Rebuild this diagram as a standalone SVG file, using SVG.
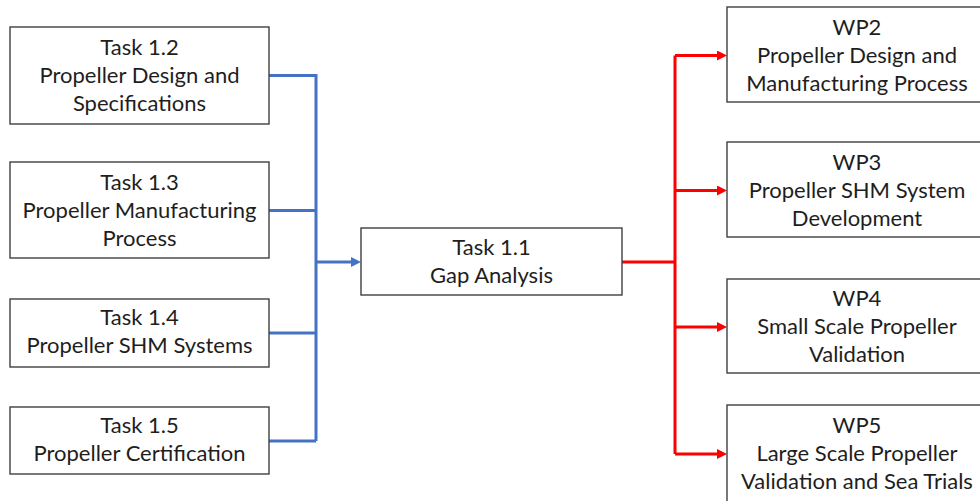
<svg xmlns="http://www.w3.org/2000/svg" width="980" height="501" viewBox="0 0 980 501">
  <style>
    .box { fill: #ffffff; stroke: #3f3f3f; stroke-width: 1.4; }
    .lbl { font-family: Lato, "Open Sans", "Liberation Sans", sans-serif; font-size: 22px; fill: #1e1e1e; text-anchor: middle; }
    .blue { fill: none; stroke: #4472c4; stroke-width: 3; }
    .red { fill: none; stroke: #ff0000; stroke-width: 3; }
  </style>
  <defs>
    <marker id="arrowBlue" viewBox="0 0 10 10" markerUnits="userSpaceOnUse" markerWidth="10" markerHeight="10" refX="2" refY="5" orient="auto">
      <path d="M0,0 L10,5 L0,10 z" fill="#4472c4"/>
    </marker>
    <marker id="arrowRed" viewBox="0 0 10 10" markerUnits="userSpaceOnUse" markerWidth="10" markerHeight="10" refX="2" refY="5" orient="auto">
      <path d="M0,0 L10,5 L0,10 z" fill="#ff0000"/>
    </marker>
  </defs>
  <rect width="980" height="501" fill="#ffffff"/>

  <g id="connectors">
    <!-- inputs merging into the gap analysis -->
    <path class="blue" d="M269,75.5 H316 V441"/>
    <path class="blue" d="M269,210.5 H316"/>
    <path class="blue" d="M269,333 H316"/>
    <path class="blue" d="M269,441 H316"/>
    <path class="blue" d="M316,262 H353" marker-end="url(#arrowBlue)"/>
    <!-- outputs to the work packages -->
    <path class="red" d="M622,262 H675"/>
    <path class="red" d="M675,55.5 V454"/>
    <path class="red" d="M675,55.5 H719" marker-end="url(#arrowRed)"/>
    <path class="red" d="M675,190.5 H719" marker-end="url(#arrowRed)"/>
    <path class="red" d="M675,327 H719" marker-end="url(#arrowRed)"/>
    <path class="red" d="M675,454 H719" marker-end="url(#arrowRed)"/>
  </g>

  <g id="task12">
    <rect class="box" x="10" y="27" width="259" height="97"/>
    <text class="lbl" x="139.5" y="55">Task 1.2</text>
    <text class="lbl" x="139.5" y="83">Propeller Design and</text>
    <text class="lbl" x="139.5" y="111">Specifications</text>
  </g>
  <g id="task13">
    <rect class="box" x="10" y="162" width="259" height="96"/>
    <text class="lbl" x="139.5" y="190">Task 1.3</text>
    <text class="lbl" x="139.5" y="218">Propeller Manufacturing</text>
    <text class="lbl" x="139.5" y="246">Process</text>
  </g>
  <g id="task14">
    <rect class="box" x="10" y="299" width="259" height="68"/>
    <text class="lbl" x="139.5" y="325">Task 1.4</text>
    <text class="lbl" x="139.5" y="353">Propeller SHM Systems</text>
  </g>
  <g id="task15">
    <rect class="box" x="10" y="407" width="259" height="67"/>
    <text class="lbl" x="139.5" y="433">Task 1.5</text>
    <text class="lbl" x="139.5" y="461">Propeller Certification</text>
  </g>
  <g id="task11">
    <rect class="box" x="361" y="228" width="261" height="67"/>
    <text class="lbl" x="491.5" y="255">Task 1.1</text>
    <text class="lbl" x="491.5" y="283">Gap Analysis</text>
  </g>
  <g id="wp2">
    <rect class="box" x="727" y="7" width="262" height="95"/>
    <text class="lbl" x="857" y="35">WP2</text>
    <text class="lbl" x="857" y="63">Propeller Design and</text>
    <text class="lbl" x="857" y="91">Manufacturing Process</text>
  </g>
  <g id="wp3">
    <rect class="box" x="727" y="142" width="262" height="95"/>
    <text class="lbl" x="857" y="170">WP3</text>
    <text class="lbl" x="857" y="198">Propeller SHM System</text>
    <text class="lbl" x="857" y="226">Development</text>
  </g>
  <g id="wp4">
    <rect class="box" x="727" y="279" width="262" height="94"/>
    <text class="lbl" x="857" y="306">WP4</text>
    <text class="lbl" x="857" y="334">Small Scale Propeller</text>
    <text class="lbl" x="857" y="362">Validation</text>
  </g>
  <g id="wp5">
    <rect class="box" x="727" y="405" width="262" height="110"/>
    <text class="lbl" x="857" y="433">WP5</text>
    <text class="lbl" x="857" y="461">Large Scale Propeller</text>
    <text class="lbl" x="857" y="489">Validation and Sea Trials</text>
  </g>
</svg>
